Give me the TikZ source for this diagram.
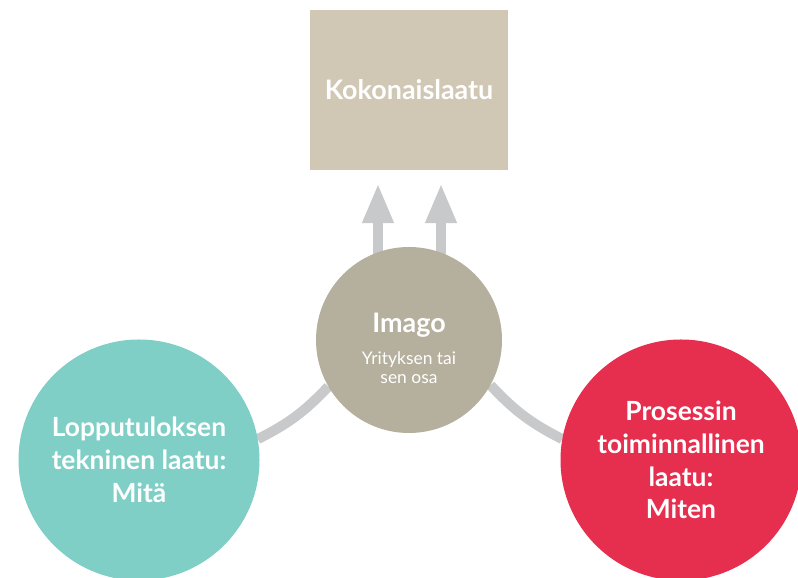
\documentclass[tikz,border=0pt]{standalone}
\usepackage{fontspec}
\setmainfont{Lato}
\usetikzlibrary{arrows.meta,backgrounds}
\definecolor{laatikko}{HTML}{D0C7B4}
\definecolor{keski}{HTML}{B5AF9D}
\definecolor{turkoosi}{HTML}{7FCFC7}
\definecolor{puna}{HTML}{E62E4F}
\definecolor{viiva}{HTML}{C8C9CB}
\begin{document}
\begin{tikzpicture}[x=1bp,y=1bp]
	\tikzset{>={Triangle[length=40bp,width=29bp]}}
	\tikzset{pallo/.style={circle,minimum size=241bp,inner sep=0pt,text=white,align=center,font=\bfseries\fontsize{26.5}{33}\selectfont}}
	\tikzset{yhteys/.style={line width=10bp,color=viiva}}
	\useasboundingbox (0,0) rectangle (798,578);
	\node[fill=laatikko,minimum width=198bp,minimum height=160bp,text=white,font=\bfseries\fontsize{27}{32}\selectfont] (kok) at (409,488) {Kokonaislaatu};
	\node[pallo,fill=keski,minimum size=186bp,text height=88bp,font=\fontsize{17.5}{20}\selectfont] (imago) at (409,238) {\bfseries\fontsize{27}{32}\selectfont Imago\\[12bp]Yrityksen tai\\sen osa};
	\node[pallo,fill=turkoosi] (mita) at (139,118) {Lopputuloksen\\tekninen laatu:\\Mitä};
	\node[pallo,fill=puna] (miten) at (681,118) {Prosessin\\toiminnallinen\\laatu:\\Miten};
	\coordinate (k1) at ([xshift=-31bp,yshift=-13bp]kok.south);
	\coordinate (k2) at ([xshift=32bp,yshift=-13bp]kok.south);
	\begin{scope}[on background layer]
	\draw[->,yhteys] (imago.center -| k1) -- (k1);
	\draw[->,yhteys] (imago.center -| k2) -- (k2);
	\draw[yhteys] (imago.210) to[bend left=10] (mita.10);
	\draw[yhteys] (imago.-29) to[bend right=10] (miten.170);
	\end{scope}
\end{tikzpicture}
\end{document}
